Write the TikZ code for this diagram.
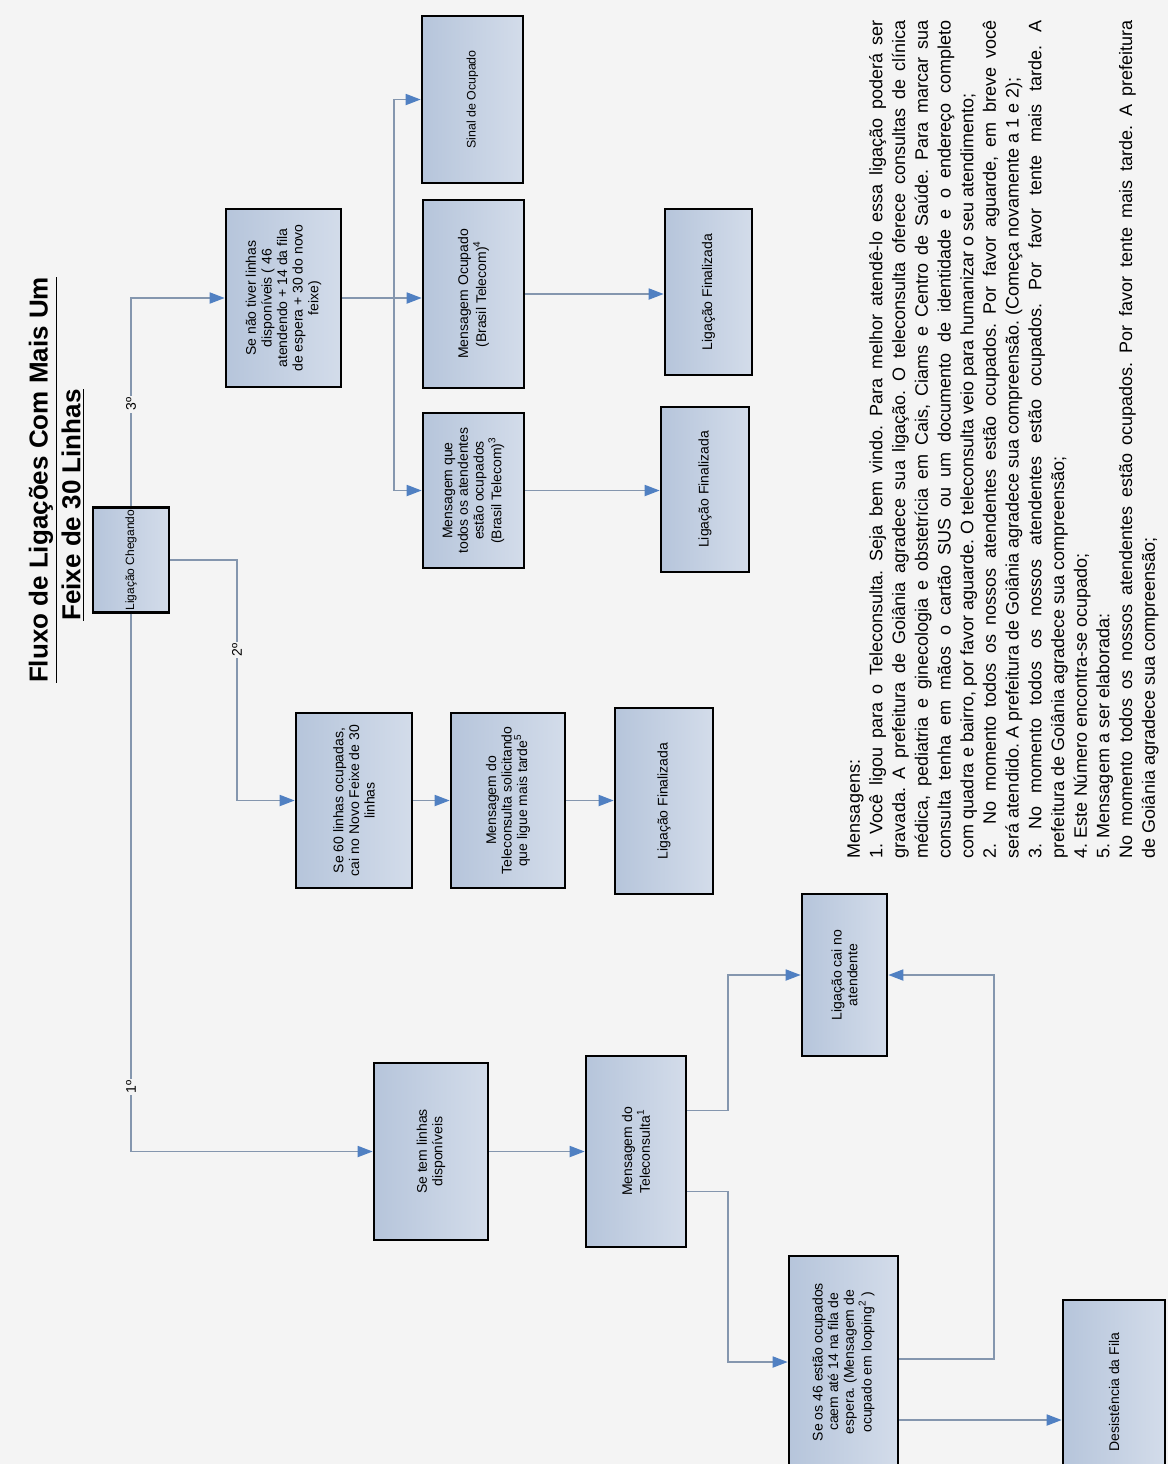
\documentclass[tikz,border=0pt]{standalone}
\usepackage{fontspec}
\setmainfont{Liberation Sans}
\usetikzlibrary{arrows.meta,calc}
\definecolor{bg}{RGB}{244,244,244}
\definecolor{boxL}{RGB}{182,197,219}
\definecolor{boxR}{RGB}{211,220,234}
\definecolor{lineC}{RGB}{132,150,174}
\definecolor{arrC}{RGB}{80,128,194}
\tikzset{
  box/.style={draw=black, line width=1.3pt, left color=boxL, right color=boxR,
    rotate=90, align=center, inner sep=1pt, font=\fontsize{7}{7.8}\selectfont},
  conn/.style={draw=lineC, line width=0.9pt,
    -{Triangle[length=7.5pt,width=5.5pt,color=arrC,fill=arrC]}},
  lbl/.style={rotate=90, fill=bg, inner sep=1pt, font=\fontsize{7}{8}\selectfont},
  ttl/.style={rotate=90, inner sep=0pt, font=\fontsize{13}{14}\selectfont\bfseries},
}
\begin{document}
\frenchspacing
\begin{tikzpicture}[x=0.5pt,y=-0.5pt]
\useasboundingbox (0,0) rectangle (1168,1464);
\fill[bg] (0,0) rectangle (1168,1464);

% title
\node[ttl] (title1) at (43,480) {\underline{Fluxo de Ligações Com Mais Um}};
\node[ttl] (title2) at (73,505) {\underline{Feixe de 30 Linhas}};

% boxes
\node[box, minimum width=52pt, minimum height=38pt, font=\fontsize{6}{7}\selectfont] (chegando) at (131,560) {Ligação Chegando};
\node[box, minimum width=89pt, minimum height=57.5pt] (naotiver) at (283.5,298)
  {Se não tiver linhas\\disponíveis ( 46\\atendendo + 14 da fila\\de espera + 30 do novo\\feixe)};
\node[box, minimum width=83.5pt, minimum height=50.5pt, font=\fontsize{6.2}{7}\selectfont] (sinal) at (472.5,99.5) {Sinal de Ocupado};
\node[box, minimum width=94pt, minimum height=50.5pt] (msgocup) at (473.5,294) {Mensagem Ocupado\\(Brasil Telecom)\textsuperscript{4}};
\node[box, minimum width=77.5pt, minimum height=50.5pt] (msgtodos) at (473.5,490.5)
  {Mensagem que\\todos os atendentes\\estão ocupados\\(Brasil Telecom)\textsuperscript{3}};
\node[box, minimum width=83pt, minimum height=43.5pt] (fin1) at (708.5,292) {Ligação Finalizada};
\node[box, minimum width=82.5pt, minimum height=44pt] (fin2) at (705,489.5) {Ligação Finalizada};
\node[box, minimum width=87.5pt, minimum height=58pt] (se60) at (354,800.5)
  {Se 60 linhas ocupadas,\\cai no Novo Feixe de 30\\linhas};
\node[box, minimum width=87.5pt, minimum height=57pt] (msgsolic) at (508,800.5)
  {Mensagem do\\Teleconsulta solicitando\\que ligue mais tarde\textsuperscript{5}};
\node[box, minimum width=93pt, minimum height=49pt] (fin3) at (664,801) {Ligação Finalizada};
\node[box, minimum width=88.5pt, minimum height=57pt] (setem) at (431,1151.5) {Se tem linhas\\disponíveis};
\node[box, minimum width=95.5pt, minimum height=50pt] (msgtele) at (636,1151.5) {Mensagem do\\Teleconsulta\textsuperscript{1}};
\node[box, minimum width=81pt, minimum height=42.5pt] (atendente) at (844.5,975) {Ligação cai no\\atendente};
\node[box, minimum width=106pt, minimum height=54.5pt] (se46) at (843.5,1362)
  {Se os 46 estão ocupados\\caem até 14 na fila de\\espera. (Mensagem de\\ocupado em looping\textsuperscript{2} )};
\node[box, minimum width=92pt, minimum height=51pt] (desist) at (1114,1392) {Desistência da Fila};

% connectors from Ligação Chegando
\draw[conn] (chegando.west) |- (setem.north) node[lbl, pos=0.44] (l1) {1º};
\draw[conn] (chegando.east) |- (naotiver.north) node[lbl, pos=0.245] (l3) {3º};
\coordinate (c2) at (237,0);
\draw[conn] (chegando.south) -- (chegando.south -| c2) |- (se60.north);
\node[lbl] (l2) at (237,650) {2º};

% branch 3
\coordinate (split) at (394,0);
\draw[conn] (naotiver.south) -- (naotiver.south -| msgocup.north);
\draw[conn] (naotiver.south -| split) |- (sinal.north);
\draw[conn] (naotiver.south -| split) |- (msgtodos.north);
\draw[conn] (msgocup.south) -- (msgocup.south -| fin1.north);
\draw[conn] (msgtodos.south) -- (msgtodos.south -| fin2.north);

% branch 2
\draw[conn] (se60.south) -- (se60.south -| msgsolic.north);
\draw[conn] (msgsolic.south) -- (msgsolic.south -| fin3.north);

% branch 1
\draw[conn] (setem.south) -- (setem.south -| msgtele.north);
\draw[conn] ($(msgtele.south)+(0,-41)$) -- ++(41,0) |- (atendente.north);
\draw[conn] ($(msgtele.south)+(0,40)$) -- ++(41,0) |- (se46.north);
\draw[conn] ($(se46.south)+(0,-3)$) -- ++(95,0) |- (atendente.south);
\coordinate (d0) at ($(se46.south)+(0,58)$);
\draw[conn] (d0) -- (d0 -| desist.north);

% messages
\node[rotate=90, text width=419pt, inner sep=0pt, align=justify,
      font=\fontsize{9}{11.35}\selectfont] (msgs) at (1003,439) {%
Mensagens:\par
1. Você ligou para o Teleconsulta. Seja bem vindo. Para melhor atendê-lo essa ligação poderá ser\linebreak
gravada. A prefeitura de Goiânia agradece sua ligação. O teleconsulta oferece consultas de clínica\linebreak
médica, pediatria e ginecologia e obstetrícia em Cais, Ciams e Centro de Saúde. Para marcar sua\linebreak
consulta tenha em mãos o cartão SUS ou um documento de identidade e o endereço completo\linebreak
com quadra e bairro, por favor aguarde. O teleconsulta veio para humanizar o seu atendimento;\par
2.~ No momento todos os nossos atendentes estão ocupados. Por favor aguarde, em breve você\linebreak
será atendido. A prefeitura de Goiânia agradece sua compreensão. (Começa novamente a 1 e 2);\par
3. No momento todos os nossos atendentes estão ocupados. Por favor tente mais tarde. A\linebreak
prefeitura de Goiânia agradece sua compreensão;\par
4. Este Número encontra-se ocupado;\par
5. Mensagem a ser elaborada:\par
No momento todos os nossos atendentes estão ocupados. Por favor tente mais tarde. A prefeitura\linebreak
de Goiânia agradece sua compreensão;};
\end{tikzpicture}
\end{document}
